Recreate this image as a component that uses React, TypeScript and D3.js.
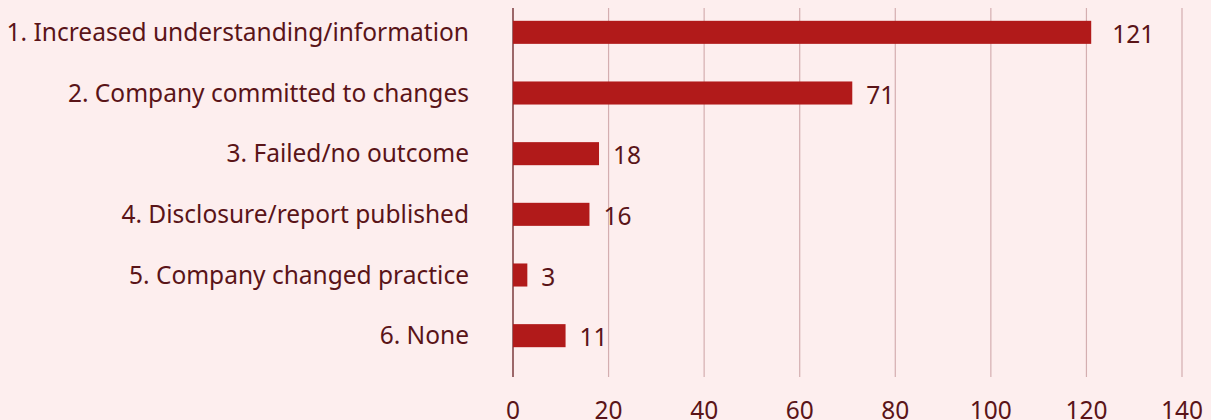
import React from "react";
import * as d3 from "d3";

const categories = [
  "1. Increased understanding/information",
  "2. Company committed to changes",
  "3. Failed/no outcome",
  "4. Disclosure/report published",
  "5. Company changed practice",
  "6. None",
];
const values = [121, 71, 18, 16, 3, 11];
const xTicks = [0, 20, 40, 60, 80, 100, 120, 140];

const W = 1211;
const H = 420;
const FONT = "'Noto Sans', sans-serif";
const TEXT = "#5a1418";
const FS = 24.5;

export default function App() {
  const x = d3.scaleLinear().domain([0, 140]).range([513, 1182]);
  const y = d3
    .scaleBand<string>()
    .domain(categories)
    .range([2, 366])
    .paddingInner(0.62)
    .paddingOuter(0.31);
  const bw = y.bandwidth();
  return (
    <div style={{ position: "absolute", left: 0, top: 0 }}>
      <svg width={W} height={H} style={{ display: "block" }}>
        <rect width={W} height={H} fill="#fdeeee" />
        {xTicks.map((t) => (
          <line
            key={"g" + t}
            x1={x(t)}
            x2={x(t)}
            y1={8}
            y2={377}
            stroke={t === 0 ? "#7b3a3c" : "#d4aeb0"}
            strokeWidth={t === 0 ? 1.5 : 1.2}
          />
        ))}
        {categories.map((c, i) => {
          const yy = y(c)!;
          return (
            <g key={c}>
              <rect x={x(0)} y={yy} width={x(values[i]) - x(0)} height={bw} fill="#b11a1a" />
              <text
                x={469}
                y={yy + bw / 2 + 8.5}
                textAnchor="end"
                fontFamily={FONT}
                fontSize={FS}
                fill={TEXT}
              >
                {c}
              </text>
              <text
                x={x(values[i]) + (i === 0 ? 21 : 14)}
                y={yy + bw / 2 + 10.5}
                fontFamily={FONT}
                fontSize={FS}
                fill={TEXT}
              >
                {values[i]}
              </text>
            </g>
          );
        })}
        {xTicks.map((t) => (
          <text
            key={"t" + t}
            x={x(t)}
            y={419}
            textAnchor="middle"
            fontFamily={FONT}
            fontSize={FS}
            fill={TEXT}
          >
            {t}
          </text>
        ))}
      </svg>
    </div>
  );
}
